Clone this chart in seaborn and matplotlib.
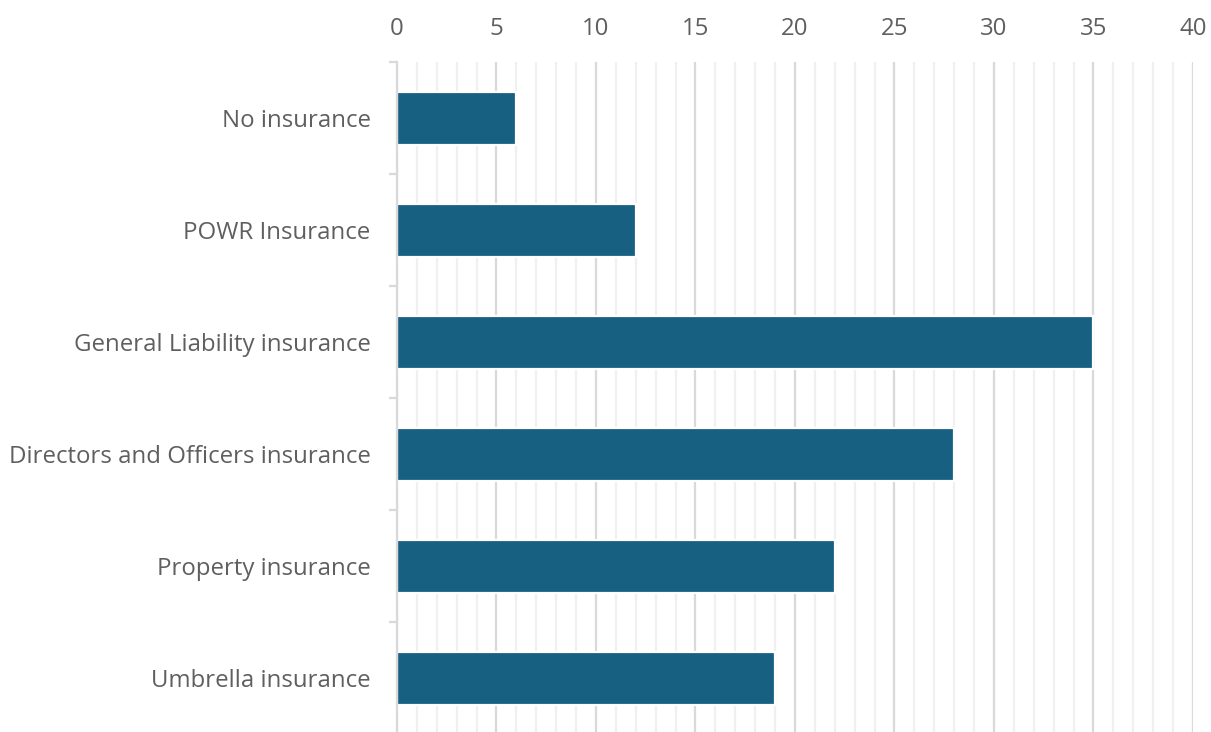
import matplotlib
matplotlib.use("Agg")
import matplotlib.pyplot as plt
from matplotlib.ticker import MultipleLocator, FixedLocator
import seaborn as sns
import pandas as pd

categories = [
    "No insurance",
    "POWR Insurance",
    "General Liability insurance",
    "Directors and Officers insurance",
    "Property insurance",
    "Umbrella insurance",
]
counts = [6, 12, 35, 28, 22, 19]
x_ticks = [0, 5, 10, 15, 20, 25, 30, 35, 40]

df = pd.DataFrame({"category": categories, "count": counts})

sns.set_theme(style="white")
plt.rcParams["font.family"] = ["Open Sans", "DejaVu Sans"]

fig = plt.figure(figsize=(12.11, 7.32), dpi=100)
ax = fig.add_axes([0.3278, -0.003, 0.6573, 0.918])

sns.barplot(data=df, x="count", y="category", orient="h", color="#176082",
            saturation=1, width=0.47, edgecolor="white", linewidth=1.6, ax=ax)

ax.set_xlim(0, 40)
ax.set_ylim(len(categories) - 0.5, -0.5)
ax.xaxis.set_major_locator(FixedLocator(x_ticks))
ax.xaxis.set_minor_locator(MultipleLocator(1))
ax.xaxis.tick_top()
ax.set_axisbelow(True)
ax.grid(axis="x", which="major", color="#d9d9d9", linewidth=1.6)
ax.grid(axis="x", which="minor", color="#f0f0f0", linewidth=1.6)
ax.grid(axis="y", visible=False)

ax.tick_params(axis="x", which="both", length=0, pad=15, labelsize=17.3, labelcolor="#5f5f5f")
ax.tick_params(axis="y", which="major", length=0, pad=19, labelsize=17.3, labelcolor="#5f5f5f")
ax.yaxis.set_minor_locator(FixedLocator([i - 0.5 for i in range(len(categories) + 1)]))
ax.tick_params(axis="y", which="minor", left=True, length=6, width=1.6,
               color="#d9d9d9", direction="out")

ax.set_xlabel("")
ax.set_ylabel("")
for side in ["top", "right", "bottom"]:
    ax.spines[side].set_visible(False)
ax.spines["left"].set_color("#d9d9d9")
ax.spines["left"].set_linewidth(1.6)

fig.savefig("out.png", dpi=100)
